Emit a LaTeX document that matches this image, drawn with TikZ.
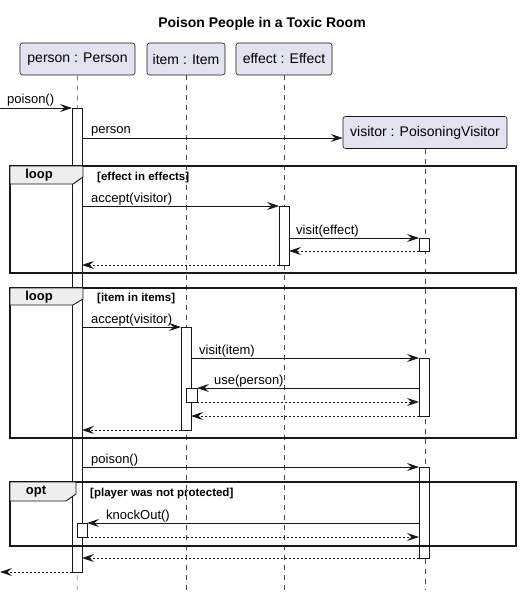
\documentclass[tikz,border=0pt]{standalone}
\usepackage{fontspec}
\setmainfont{Liberation Sans}
\usetikzlibrary{arrows.meta}
\definecolor{partfill}{HTML}{E2E2F0}
\definecolor{tabfill}{HTML}{EEEEEE}
\definecolor{ink}{HTML}{181818}
\begin{document}
\begin{tikzpicture}[x=1pt,y=-1pt,
  part/.style={draw=ink, fill=partfill, rounded corners=2.5pt, line width=0.6pt, minimum height=32pt, inner sep=0pt, font=\fontsize{14}{16}\selectfont},
  life/.style={draw=ink!80, dash pattern=on 5pt off 5pt, line width=0.5pt},
  act/.style={draw=ink, fill=white, line width=0.9pt},
  msg/.style={-{Stealth[length=12pt,width=8pt,inset=4.5pt]}, draw=ink, line width=0.9pt},
  ret/.style={msg, dash pattern=on 2pt off 2pt},
  lbl/.style={font=\fontsize{13}{15}\selectfont, anchor=base west, inner sep=0pt},
  frm/.style={draw=ink, line width=1.6pt},
  tab/.style={draw=ink, fill=tabfill, line width=0.9pt},
  kw/.style={font=\bfseries\fontsize{13}{15}\selectfont, inner sep=0pt},
  guard/.style={font=\bfseries\fontsize{11.5}{13}\selectfont, anchor=base west, inner sep=0pt}
]
\useasboundingbox (0,0) rectangle (521,596);

\node[font=\bfseries\fontsize{14}{16}\selectfont] (title) at (262,24) {Poison People in a Toxic Room};

% participants
\node[part, minimum width=115pt] (person) at (77.5,59) {person : Person};
\node[part, minimum width=78pt] (item) at (186,59) {item : Item};
\node[part, minimum width=96pt] (effect) at (284,59) {effect : Effect};
\node[part, minimum width=164pt] (visitor) at (425,132.5) {visitor : PoisoningVisitor};

% lifelines
\coordinate (pEnd) at (77,590);
\coordinate (iEnd) at (186,590);
\coordinate (eEnd) at (284,590);
\coordinate (vEnd) at (425,590);
\draw[life] (person.south) -- (pEnd);
\draw[life] (item.south) -- (iEnd);
\draw[life] (effect.south) -- (eEnd);
\draw[life] (visitor.south) -- (vEnd);

% activation bars
\path[act] (72,108) rectangle (82,572);
\path[act] (279,206) rectangle (289,265);
\path[act] (419,238) rectangle (429,251);
\path[act] (181,327) rectangle (191,430);
\path[act] (419,358) rectangle (429,416);
\path[act] (186,388) rectangle (197,402);
\path[act] (419,467) rectangle (429,558);
\path[act] (77,523) rectangle (87,537);

% frames
\draw[frm] (10,166) rectangle (516,273);
\draw[tab] (10,166) -- (83,166) -- (83,177) -- (73,184) -- (10,184) -- cycle;
\node[kw] (loopA) at (39,175.5) {loop};
\node[guard] (gA) at (97,180) {[effect in effects]};

\draw[frm] (10,288) rectangle (516,438);
\draw[tab] (10,288) -- (83,288) -- (83,299) -- (73,305) -- (10,305) -- cycle;
\node[kw] (loopB) at (39,297) {loop};
\node[guard] (gB) at (97,301) {[item in items]};

\draw[frm] (10,482) rectangle (516,546);
\draw[tab] (10,482) -- (76,482) -- (76,494) -- (66,501) -- (10,501) -- cycle;
\node[kw] (optC) at (36,492) {opt};
\node[guard] (gC) at (90,496) {[player was not protected]};

% messages
\coordinate (in0) at (0,108);   \coordinate (in1) at (72,108);
\draw[msg] (in0) -- (in1);
\node[lbl] (l0) at (7,104) {poison()};

\coordinate (m1a) at (82,138);
\draw[msg] (m1a) -- (visitor.west |- m1a);
\node[lbl] (l1) at (91,134) {person};

\coordinate (m2a) at (82,206); \coordinate (m2b) at (279,206);
\draw[msg] (m2a) -- (m2b);
\node[lbl] (l2) at (91,202) {accept(visitor)};

\coordinate (m3a) at (289,238); \coordinate (m3b) at (419,238);
\draw[msg] (m3a) -- (m3b);
\node[lbl] (l3) at (296,234) {visit(effect)};

\coordinate (r3a) at (419,251); \coordinate (r3b) at (289,251);
\draw[ret] (r3a) -- (r3b);
\coordinate (r2a) at (279,265); \coordinate (r2b) at (82,265);
\draw[ret] (r2a) -- (r2b);

\coordinate (m4a) at (82,327); \coordinate (m4b) at (181,327);
\draw[msg] (m4a) -- (m4b);
\node[lbl] (l4) at (91,323) {accept(visitor)};

\coordinate (m5a) at (191,358); \coordinate (m5b) at (419,358);
\draw[msg] (m5a) -- (m5b);
\node[lbl] (l5) at (199,354) {visit(item)};

\coordinate (m6a) at (419,388); \coordinate (m6b) at (197,388);
\draw[msg] (m6a) -- (m6b);
\node[lbl] (l6) at (214,384) {use(person)};

\coordinate (r6a) at (197,402); \coordinate (r6b) at (419,402);
\draw[ret] (r6a) -- (r6b);
\coordinate (r5a) at (419,416); \coordinate (r5b) at (191,416);
\draw[ret] (r5a) -- (r5b);
\coordinate (r4a) at (181,430); \coordinate (r4b) at (82,430);
\draw[ret] (r4a) -- (r4b);

\coordinate (m7a) at (82,467); \coordinate (m7b) at (419,467);
\draw[msg] (m7a) -- (m7b);
\node[lbl] (l7) at (91,463) {poison()};

\coordinate (m8a) at (419,523); \coordinate (m8b) at (87,523);
\draw[msg] (m8a) -- (m8b);
\node[lbl] (l8) at (106,519) {knockOut()};

\coordinate (r8a) at (87,537); \coordinate (r8b) at (419,537);
\draw[ret] (r8a) -- (r8b);
\coordinate (r7a) at (419,558); \coordinate (r7b) at (82,558);
\draw[ret] (r7a) -- (r7b);
\coordinate (r0a) at (72,572); \coordinate (r0b) at (0,572);
\draw[ret] (r0a) -- (r0b);
\end{tikzpicture}
\end{document}
